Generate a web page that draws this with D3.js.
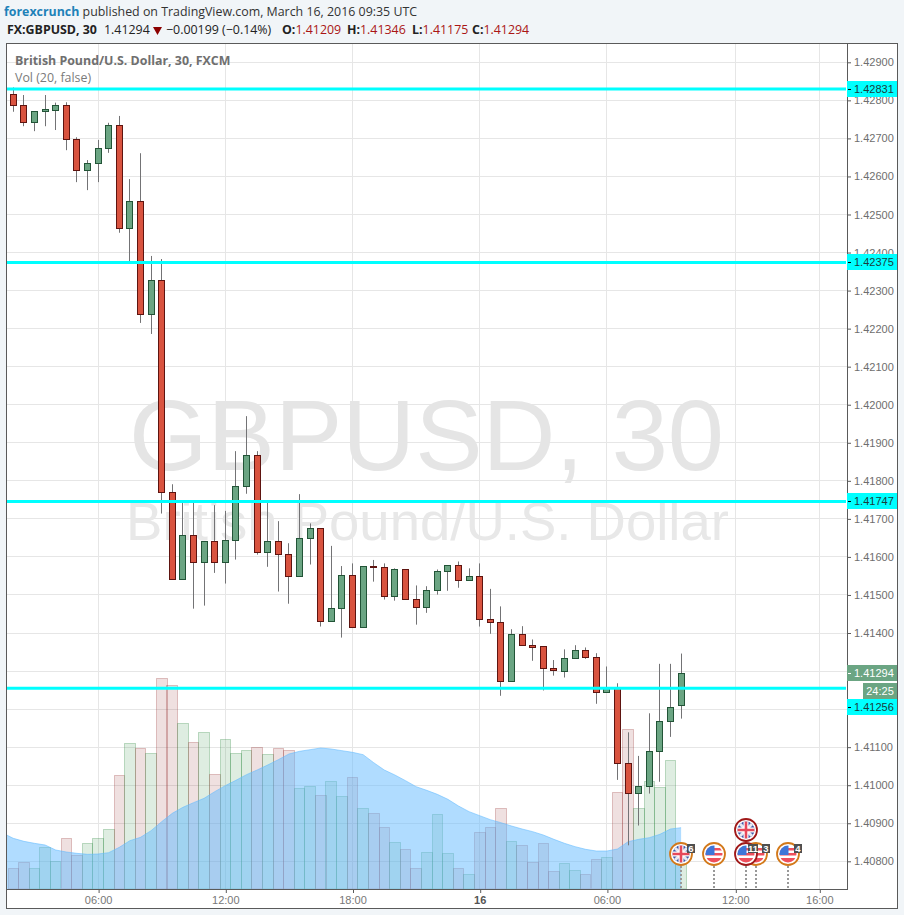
<!DOCTYPE html>
<html>
<head>
<meta charset="utf-8">
<script src="https://cdn.jsdelivr.net/npm/d3@7/dist/d3.min.js"></script>
<style>
html, body { margin: 0; padding: 0; background: #f1f5f8; }
svg { display: block; }
text { font-family: "Liberation Sans", Arial, sans-serif; }
.head { font-family: "Open Sans", sans-serif; font-size: 12.4px; }
</style>
</head>
<body>
<div id="chart"></div>
<script>
// candles, one per 30 minutes from 15 March 02:00 UTC
var opens = [1.42816,1.42787,1.42741,1.42770,1.42775,1.42787,1.42697,1.42615,1.42634,1.42674,1.42734,1.42464,1.42534,1.42238,1.42327,1.41770,
    1.41541,1.41657,1.41586,1.41641,1.41586,1.41644,1.41786,1.41867,1.41612,1.41641,1.41607,1.41549,1.41649,1.41675,1.41431,1.41465,
    1.41552,1.41415,1.41575,1.41572,1.41496,1.41567,1.41489,1.41468,1.41512,1.41562,1.41578,1.41538,1.41549,1.41436,1.41428,1.41273,
    1.41397,1.41368,1.41364,1.41307,1.41301,1.41334,1.41355,1.41336,1.41244,1.41257,1.41058,1.40979,1.40997,1.41089,1.41168,1.41209];
var highs = [1.42834,1.42814,1.42771,1.42814,1.42794,1.42795,1.42703,1.42643,1.42696,1.42741,1.42759,1.42593,1.42661,1.42391,1.42383,1.41791,
    1.41744,1.41744,1.41641,1.41736,1.41721,1.41878,1.41970,1.41878,1.41742,1.41694,1.41636,1.41765,1.41688,1.41675,1.41629,1.41576,
    1.41583,1.41575,1.41592,1.41583,1.41570,1.41567,1.41525,1.41523,1.41567,1.41578,1.41588,1.41570,1.41583,1.41516,1.41470,1.41410,
    1.41418,1.41383,1.41364,1.41329,1.41357,1.41368,1.41362,1.41347,1.41312,1.41268,1.41139,1.41077,1.41189,1.41319,1.41319,1.41346];
var lows = [1.42770,1.42732,1.42719,1.42732,1.42722,1.42669,1.42585,1.42564,1.42585,1.42662,1.42452,1.42375,1.42215,1.42186,1.41714,1.41541,
    1.41541,1.41464,1.41472,1.41558,1.41530,1.41593,1.41766,1.41606,1.41574,1.41509,1.41477,1.41549,1.41580,1.41417,1.41431,1.41388,
    1.41415,1.41415,1.41535,1.41488,1.41485,1.41489,1.41422,1.41453,1.41501,1.41511,1.41519,1.41538,1.41417,1.41398,1.41235,1.41273,
    1.41368,1.41327,1.41249,1.41288,1.41283,1.41334,1.41332,1.41214,1.41244,1.41014,1.40842,1.40894,1.40978,1.41009,1.41127,1.41175];
var closes = [1.42786,1.42742,1.42771,1.42776,1.42787,1.42697,1.42615,1.42634,1.42674,1.42734,1.42464,1.42534,1.42238,1.42327,1.41770,1.41541,
    1.41657,1.41586,1.41641,1.41586,1.41644,1.41786,1.41867,1.41612,1.41641,1.41607,1.41549,1.41649,1.41675,1.41431,1.41465,1.41552,
    1.41415,1.41575,1.41572,1.41496,1.41567,1.41489,1.41468,1.41512,1.41562,1.41578,1.41538,1.41549,1.41436,1.41428,1.41273,1.41397,
    1.41368,1.41364,1.41307,1.41301,1.41334,1.41355,1.41336,1.41244,1.41257,1.41058,1.40979,1.40997,1.41089,1.41168,1.41205,1.41294];
var volumes = [59,77,59,122,80,149,98,134,149,176,338,434,419,404,629,608,494,437,467,341,446,404,413,422,401,419,413,299,305,278,320,275,
    332,239,224,182,137,116,59,107,221,104,59,41,167,182,239,140,128,78,134,50,74,53,41,86,92,287,476,240,321,303,383,114];
// moving average of volume, first value belongs to the bar before the first candle
var volumeMA = [165,149,140,134,129,114,108,104,101,102,106,122,142,152,172,199,224,242,256,269,289,307,323,340,354,369,385,402,410,415,420,417,412,
    407,400,376,354,339,322,304,293,281,266,246,229,217,205,196,186,177,169,159,146,134,124,116,111,111,117,139,146,151,161,177,181];
var priceTicks = [1.408,1.409,1.41,1.411,1.412,1.413,1.414,1.415,1.416,1.417,1.418,1.419,1.42,1.421,1.422,1.423,1.424,1.425,1.426,1.427,1.428,1.429];
// these two sit fully behind the price labels
var hiddenTicks = [1.412,1.413];
var timeTicks = ["2016-03-15T06:00Z","2016-03-15T12:00Z","2016-03-15T18:00Z","2016-03-16T00:00Z","2016-03-16T06:00Z","2016-03-16T12:00Z","2016-03-16T16:00Z"];
var levels = [1.42831,1.42375,1.41747,1.41256];
// event markers: time, flag, badge, row, ring colour
var events = [
    {t:"2016-03-16T09:30Z", flag:"uk", badge:"6", row:0, ring:"#d3791a"},
    {t:"2016-03-16T11:00Z", flag:"us", badge:"", row:0, ring:"#d3791a"},
    {t:"2016-03-16T13:00Z", flag:"us", badge:"3", row:0, ring:"#d3791a"},
    {t:"2016-03-16T14:30Z", flag:"us", badge:"4", row:0, ring:"#d3791a"},
    {t:"2016-03-16T12:30Z", flag:"us", badge:"11", row:0, ring:"#a01818"},
    {t:"2016-03-16T12:30Z", flag:"uk", badge:"", row:1, ring:"#a01818"}
];

var width = 904, height = 915;
var t0 = new Date(Date.UTC(2016,2,15,2,0));
function barTime(i){ return d3.utcMinute.offset(t0, i*30); }
function crisp(v){ return Math.floor(v)+0.5; }

var x = d3.scaleUtc()
    .domain([barTime(0), barTime(63), barTime(68), barTime(76)])
    .range([13.3, 681.1, 735.3, 819.3]);
var y = d3.scaleLinear().domain([1.408,1.429]).range([861.3,62.3]);
var yVol = d3.scaleLinear().domain([0,654]).range([888,670]);

var svg = d3.select("#chart").append("svg").attr("width",width).attr("height",height);

svg.append("rect").attr("width",width).attr("height",height).attr("fill","#f1f5f8");
svg.append("rect").attr("x",6.5).attr("y",43.5).attr("width",891).attr("height",865)
    .attr("fill","#fff").attr("stroke","#5a5a5a");

svg.append("defs").append("clipPath").attr("id","plot").append("rect")
    .attr("x",7).attr("y",44).attr("width",840).attr("height",845);

var plot = svg.append("g").attr("clip-path","url(#plot)");
var tickDates = timeTicks.map(function(d){ return new Date(d); });

// grid
plot.append("g").selectAll("line").data(priceTicks).enter().append("line")
    .attr("x1",7).attr("x2",847)
    .attr("y1",function(d){ return crisp(y(d)); })
    .attr("y2",function(d){ return crisp(y(d)); })
    .attr("stroke","#e6e6e6");
plot.append("g").selectAll("line").data(tickDates).enter().append("line")
    .attr("y1",44).attr("y2",889)
    .attr("x1",function(d){ return crisp(x(d)); })
    .attr("x2",function(d){ return crisp(x(d)); })
    .attr("stroke","#e6e6e6");

// watermark
plot.append("text").attr("x",426.5).attr("y",470).attr("text-anchor","middle")
    .attr("font-size",101).attr("fill","#e5e5e5").text("GBPUSD, 30");
plot.append("text").attr("x",427.5).attr("y",540).attr("text-anchor","middle")
    .attr("font-size",54.5).attr("fill","#e8e8e8").text("British Pound/U.S. Dollar");

// volume bars
plot.append("g").selectAll("rect").data(volumes).enter().append("rect")
    .attr("x",function(d,i){ return crisp(x(barTime(i))-5.3); })
    .attr("width",function(d,i){ return crisp(x(barTime(i))+5.3)-crisp(x(barTime(i))-5.3); })
    .attr("y",function(d){ return crisp(yVol(d)); })
    .attr("height",function(d){ return 889-crisp(yVol(d)); })
    .attr("fill",function(d,i){ return closes[i]>=opens[i] ? "rgba(50,140,70,0.16)" : "rgba(150,50,50,0.15)"; })
    .attr("stroke",function(d,i){ return closes[i]>=opens[i] ? "rgba(50,140,70,0.3)" : "rgba(150,50,50,0.28)"; });

// volume average
var maArea = d3.area()
    .x(function(d,i){ return x(barTime(i-1)); })
    .y0(889)
    .y1(function(d){ return yVol(d); });
var maLine = d3.line()
    .x(function(d,i){ return x(barTime(i-1)); })
    .y(function(d){ return yVol(d); });
plot.append("path").datum(volumeMA).attr("d",maArea).attr("fill","rgba(97,185,255,0.5)");
plot.append("path").datum(volumeMA).attr("d",maLine).attr("fill","none").attr("stroke","rgba(97,185,255,0.55)");

// candles
var candles = plot.append("g").selectAll("g").data(opens).enter().append("g");
candles.append("line")
    .attr("x1",function(d,i){ return crisp(x(barTime(i))); })
    .attr("x2",function(d,i){ return crisp(x(barTime(i))); })
    .attr("y1",function(d,i){ return y(highs[i]); })
    .attr("y2",function(d,i){ return y(lows[i]); })
    .attr("stroke","#737375");
candles.append("rect")
    .attr("x",function(d,i){ return crisp(x(barTime(i)))-3; })
    .attr("width",6)
    .attr("y",function(d,i){ return crisp(y(Math.max(d,closes[i]))); })
    .attr("height",function(d,i){ return Math.max(1,Math.round(Math.abs(y(d)-y(closes[i])))); })
    .attr("fill",function(d,i){ return closes[i]>=d ? "#6ba583" : "#d9533f"; })
    .attr("stroke",function(d,i){ return closes[i]>=d ? "#225437" : "#5e1410"; });

// horizontal levels
plot.append("g").selectAll("line").data(levels).enter().append("line")
    .attr("x1",7).attr("x2",846)
    .attr("y1",function(d){ return y(d)+0.4; })
    .attr("y2",function(d){ return y(d)+0.4; })
    .attr("stroke","#00ffff").attr("stroke-width",3);

// event markers
var flags = plot.append("g");
var defs = svg.select("defs");
events.forEach(function(e,k){
    var cx = Math.round(x(new Date(e.t))), cy = e.row ? 830 : 854;
    var g = flags.append("g").attr("transform","translate("+cx+","+cy+")");
    if(!e.row){
        g.append("line").attr("y1",12).attr("y2",35).attr("stroke","#999")
            .attr("stroke-width",2).attr("stroke-dasharray","2,2");
    }
    g.append("circle").attr("r",11).attr("fill","#fff").attr("stroke",e.ring).attr("stroke-width",1.8);
    defs.append("clipPath").attr("id","flag"+k).append("circle").attr("r",8.5);
    var f = g.append("g").attr("clip-path","url(#flag"+k+")");
    if(e.flag=="uk"){
        f.append("rect").attr("x",-9).attr("y",-9).attr("width",18).attr("height",18).attr("fill","#4058a8");
        f.append("path").attr("d","M-9,-9L9,9M9,-9L-9,9").attr("stroke","#e8e8f0").attr("stroke-width",3);
        f.append("path").attr("d","M0,-9V9M-9,0H9").attr("stroke","#fff").attr("stroke-width",5);
        f.append("path").attr("d","M0,-9V9M-9,0H9").attr("stroke","#e6485a").attr("stroke-width",2.6);
    } else {
        f.append("rect").attr("x",-9).attr("y",-9).attr("width",18).attr("height",18).attr("fill","#fff");
        f.append("rect").attr("x",-9).attr("y",-6).attr("width",18).attr("height",2.5).attr("fill","#ef4f5c");
        f.append("rect").attr("x",-9).attr("y",-1).attr("width",18).attr("height",2.5).attr("fill","#ef4f5c");
        f.append("rect").attr("x",-9).attr("y",4).attr("width",18).attr("height",5).attr("fill","#ef4f5c");
        f.append("rect").attr("x",-9).attr("y",-9).attr("width",9.5).attr("height",10).attr("fill","#3f76d8");
    }
    if(e.badge){
        var two = e.badge.length>1;
        var w = two ? 10 : 8, bx = two ? 2 : 6;
        g.append("rect").attr("x",bx).attr("y",-10).attr("width",w).attr("height",9).attr("fill","#4f4f4f");
        g.append("text").attr("x",bx+w/2).attr("y",-2.5).attr("text-anchor","middle")
            .attr("font-size",9.5).attr("font-weight","bold").attr("fill","#fff").text(e.badge);
    }
});

// axes
var axisY = d3.axisRight(y).tickValues(priceTicks).tickSize(3).tickPadding(3)
    .tickFormat(function(d){ return hiddenTicks.indexOf(d)>=0 ? "" : d3.format(".5f")(d); });
var yAxisG = svg.append("g").attr("transform","translate(848,0)").call(axisY);
yAxisG.select(".domain").remove();
yAxisG.selectAll("line").attr("stroke","#5a5a5a");
yAxisG.selectAll("text").attr("font-size",11).attr("font-family","Liberation Sans").attr("fill","#6e6e6e");

var axisX = d3.axisBottom(x).tickValues(tickDates).tickSize(4).tickPadding(3)
    .tickFormat(function(d){ return d.getUTCHours()==0 ? d3.utcFormat("%-d")(d) : d3.utcFormat("%H:%M")(d); });
var xAxisG = svg.append("g").attr("transform","translate(0,889)").call(axisX);
xAxisG.select(".domain").remove();
xAxisG.selectAll("line").attr("stroke","#5a5a5a")
    .attr("x1",0.5).attr("x2",0.5);
xAxisG.selectAll("text").attr("font-size",11).attr("font-family","Liberation Sans")
    .attr("fill",function(d){ return d.getUTCHours()==0 ? "#555" : "#777"; })
    .attr("font-weight",function(d){ return d.getUTCHours()==0 ? "bold" : "normal"; });

svg.append("line").attr("x1",6).attr("x2",848).attr("y1",889.5).attr("y2",889.5).attr("stroke","#5a5a5a");
svg.append("line").attr("x1",847.5).attr("x2",847.5).attr("y1",43).attr("y2",890).attr("stroke","#5a5a5a");

// price labels on the axis
function priceLabel(py, txt, fill, color, tick){
    svg.append("rect").attr("x",847).attr("y",py-8).attr("width",50).attr("height",16).attr("fill",fill);
    svg.append("line").attr("x1",848).attr("x2",851).attr("y1",py+0.5).attr("y2",py+0.5).attr("stroke",tick);
    svg.append("text").attr("x",854).attr("y",py+4).attr("font-size",11).attr("fill",color).text(txt);
}
levels.forEach(function(d){
    var py = Math.round(y(d)+0.4);
    if(d==1.41256) py = 707;
    priceLabel(py, d3.format(".5f")(d), "#00ffff", "#1c3c3c", "#000");
});
priceLabel(Math.round(y(closes[63])), d3.format(".5f")(closes[63]), "#6ba583", "#fff", "#fff");
svg.append("rect").attr("x",863).attr("y",683).attr("width",34).attr("height",16).attr("fill","#6ba583");
svg.append("text").attr("x",880).attr("y",695).attr("text-anchor","middle").attr("font-size",11).attr("fill","#fff").text("24:25");

// legends inside the chart
svg.append("text").attr("class","head").attr("x",15).attr("y",65).attr("font-weight","bold").attr("fill","#6f6f6f")
    .text("British Pound/U.S. Dollar, 30, FXCM");
svg.append("text").attr("class","head").attr("x",15).attr("y",82).attr("fill","#7a7a7a").text("Vol (20, false)");

// header
var h1 = svg.append("text").attr("class","head").attr("x",4).attr("y",16).attr("fill","#333");
h1.append("tspan").attr("font-weight","bold").attr("fill","#1e82b8").text("forexcrunch");
h1.append("tspan").text(" published on TradingView.com, March 16, 2016 09:35 UTC");

svg.append("text").attr("class","head").attr("x",7).attr("y",34).attr("font-weight","bold").attr("fill","#222").text("FX:GBPUSD, 30");
svg.append("text").attr("class","head").attr("x",104).attr("y",34).attr("fill","#222").text("1.41294");
svg.append("path").attr("d","M153,27H162L157.5,35Z").attr("fill","#8c0000");
svg.append("text").attr("class","head").attr("x",166).attr("y",34).attr("fill","#222").text("\u22120.00199 (\u22120.14%)");
var ohlc = [["O:",282,opens[63]],["H:",347,highs[63]],["L:",412,lows[63]],["C:",472,closes[63]]];
ohlc.forEach(function(d){
    var t = svg.append("text").attr("class","head").attr("x",d[1]).attr("y",34);
    t.append("tspan").attr("font-weight","bold").attr("fill","#222").text(d[0]);
    t.append("tspan").attr("fill","#aa1515").text(d3.format(".5f")(d[2]));
});
</script>
</body>
</html>
